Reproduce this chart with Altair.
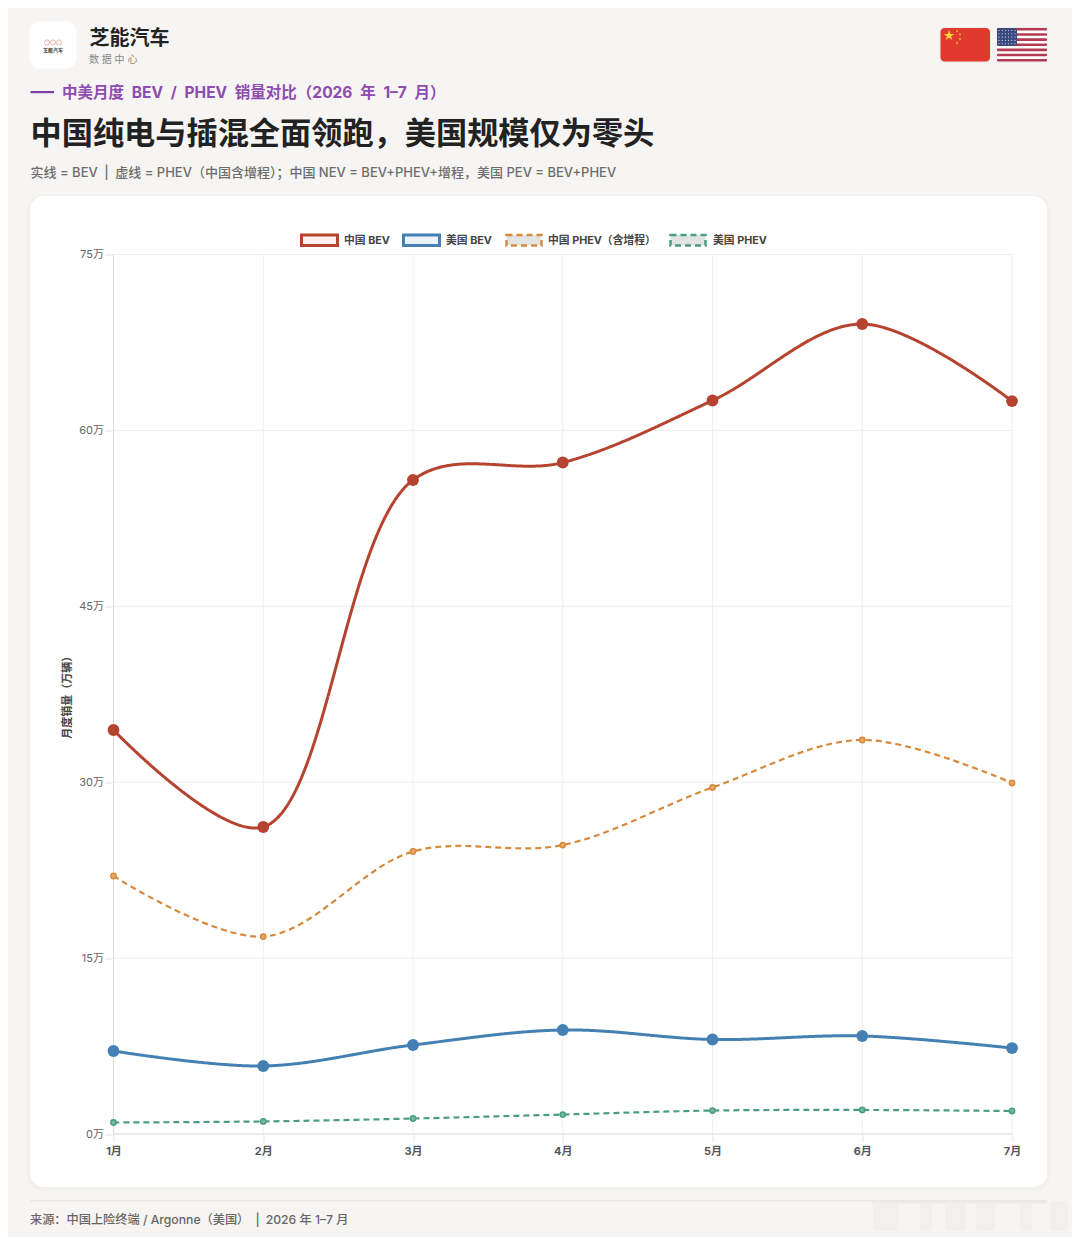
import altair as alt
import pandas as pd

months = ["1月", "2月", "3月", "4月", "5月", "6月", "7月"]
cn_bev = [34.45, 26.18, 55.77, 57.26, 62.55, 69.07, 62.5]
us_bev = [7.08, 5.8, 7.59, 8.87, 8.06, 8.36, 7.33]
cn_phev = [22.0, 16.84, 24.09, 24.64, 29.55, 33.6, 29.93]
us_phev = [0.98, 1.07, 1.32, 1.66, 2.0, 2.05, 1.96]
series_names = ["中国 BEV", "美国 BEV", "中国 PHEV（含增程）", "美国 PHEV"]
series_values = [cn_bev, us_bev, cn_phev, us_phev]
series_colors = ["#b5432f", "#4480b3", "#d68a3c", "#4a9e80"]
point_fills = ["#b5432f", "#4480b3", "#eaa765", "#74b89f"]
legend_fills = ["#fdf1ef", "#eaf3f9", "#e3e5e5", "#e0e3e2"]
legend_boxes = [(301.5, 337.5), (403.5, 439.5), (506.5, 541.5), (670.5, 705.5)]
legend_text_x = [344, 446, 548, 713]
y_ticks = [0, 15, 30, 45, 60, 75]

FONT = "Inter, Noto Sans CJK SC"
PX0, PY0 = 113.5, 254.5
PW, PH = 898.5, 879.5

rows = []
for name, vals in zip(series_names, series_values):
    for m, v in zip(months, vals):
        rows.append({"month": m, "series": name, "value": v})
df = pd.DataFrame(rows)

layers = []


def one():
    return alt.Chart(pd.DataFrame({"a": [0]}))


def box(x0, y0, x1, y1, fill, radius=0, opacity=1):
    layers.append(
        one().mark_rect(fill=fill, cornerRadius=radius, opacity=opacity).encode(
            x=alt.value(x0 - PX0), x2=alt.value(x1 - PX0),
            y=alt.value(y0 - PY0), y2=alt.value(y1 - PY0)))


def label(s, x, y, size, color, weight=400, align="left"):
    layers.append(
        alt.Chart(pd.DataFrame({"t": [s]})).mark_text(
            font=FONT, fontSize=size, color=color, fontWeight=weight,
            align=align, baseline="middle").encode(
            x=alt.value(x - PX0), y=alt.value(y - PY0), text="t:N"))


# card and shadow
box(27, 195, 1050, 1191, "#f1f0ed", 16)
box(30, 196, 1047, 1187, "#ffffff", 14)

# logo
box(29, 21, 77, 69, "#fbfaf9", 11)
box(30, 22, 76, 68, "#ffffff", 10)
for cx in (47, 53, 59):
    layers.append(one().mark_point(shape="circle", size=26, stroke="#d9825f", strokeWidth=0.8, filled=False)
                  .encode(x=alt.value(cx - PX0), y=alt.value(42.5 - PY0)))
label("芝能汽车", 53, 50, 5, "#333333", 700, "center")

# header
label("芝能汽车", 89.5, 38.5, 20, "#222222", 700)
label("数 据 中 心", 89, 59.5, 10, "#888888")
box(30.5, 91, 54, 93.2, "#7d3fae")
label("中美月度\u2002BEV\u2002/\u2002PHEV\u2002销量对比（2026\u2002年\u20021–7\u2002月）", 62, 93, 15.5, "#8e4bb0", 700)
label("中国纯电与插混全面领跑，美国规模仅为零头", 30.5, 134.5, 31.2, "#222222", 700)
label("实线 = BEV\u2002|\u2002虚线 = PHEV（中国含增程）；中国 NEV = BEV+PHEV+增程，美国 PEV = BEV+PHEV", 30.5, 173, 13, "#6d6d6d", 500)

# China flag
box(939.5, 27, 991, 63, "#eeeceb", 4)
box(940.5, 28, 990, 61.5, "#e0392d", 4)
label("★", 949, 36, 12, "#fbd53b", 400, "center")
for sx, sy in [(957, 31), (960, 34.5), (960, 39), (957, 43)]:
    layers.append(one().mark_circle(size=5, color="#f0a93f", opacity=1)
                  .encode(x=alt.value(sx - PX0), y=alt.value(sy - PY0)))

# US flag
box(996.5, 27, 1048, 63, "#eeeceb", 4)
box(997, 28, 1047, 61.5, "#ffffff", 4)
stripe_h = 33.5 / 13
for i in range(0, 13, 2):
    box(997, 28 + i * stripe_h, 1047, 28 + (i + 1) * stripe_h, "#b33a52", 1)
box(997, 28, 1017, 46, "#3c4b7f", 2)
for r in range(5):
    for c in range(6):
        layers.append(one().mark_circle(size=1.2, color="#dfe3ee", opacity=1)
                      .encode(x=alt.value(999 + c * 3.2 - PX0), y=alt.value(30.5 + r * 3.3 - PY0)))

# footer
box(30, 1200.2, 1047, 1201.2, "#e5e4e1")
label("来源：中国上险终端 / Argonne（美国）\u2002|\u20022026 年 1–7 月", 30, 1219.5, 12.2, "#666666", 500)

# faint smear at the lower right of the page
box(872, 1201, 1047, 1204, "#e9e7e3", 0, 0.6)
for x0, x1 in [(873, 898), (920, 932), (945, 966), (976, 995), (1020, 1032), (1050, 1068)]:
    box(x0, 1201, x1, 1231, "#f0eeeb", 4, 0.7)

# legend
for name, color, fill, (bx0, bx1), tx in zip(series_names, series_colors, legend_fills, legend_boxes, legend_text_x):
    dashed = "PHEV" in name
    mark_args = dict(fill=fill, stroke=color, strokeWidth=2.5 if dashed else 3)
    if dashed:
        mark_args["strokeDash"] = [6, 4]
    layers.append(one().mark_rect(**mark_args).encode(
        x=alt.value(bx0 - PX0), x2=alt.value(bx1 - PX0),
        y=alt.value(235 - PY0), y2=alt.value(245.5 - PY0)))
    label(name, tx, 240.5, 10.8, "#444444", 700)

x_enc = alt.X("month:N", sort=months, scale=alt.Scale(type="point", domain=months, padding=0),
              axis=alt.Axis(title=None, domain=False, grid=False, ticks=True, tickSize=8, tickColor="#e6e6e6",
                            labelAngle=0, labelFont=FONT, labelFontSize=11, labelFontWeight=700,
                            labelColor="#555555", labelPadding=3, zindex=1))
y_enc = alt.Y("value:Q", scale=alt.Scale(domain=[0, 75], nice=False),
              axis=alt.Axis(values=y_ticks, title="月度销量（万辆）", domain=False, grid=False, tickSize=9,
                            tickColor="#e6e6e6", labelExpr="datum.value + '万'", labelFont=FONT,
                            labelFontSize=11, labelColor="#666666", labelPadding=1, titleFont=FONT,
                            titleFontSize=11, titleFontWeight=700, titleColor="#444444", titlePadding=6,
                            zindex=1))

# grid drawn from the same scales
layers.append(alt.Chart(pd.DataFrame({"value": y_ticks})).mark_rule(color="#eeeeee", strokeWidth=1).encode(y=y_enc))
layers.append(alt.Chart(pd.DataFrame({"month": months})).mark_rule(color="#eeeeee", strokeWidth=1).encode(x=x_enc))
layers.append(alt.Chart(pd.DataFrame({"value": [0]})).mark_rule(color="#dddddd", strokeWidth=1).encode(y=y_enc))
layers.append(alt.Chart(pd.DataFrame({"month": months[:1]})).mark_rule(color="#dddddd", strokeWidth=1).encode(x=x_enc))

color_scale = alt.Scale(domain=series_names, range=series_colors)
fill_scale = alt.Scale(domain=series_names, range=point_fills)
dash_scale = alt.Scale(domain=series_names, range=[[1, 0], [1, 0], [6, 4], [6, 4]])

for names, width in [(series_names[2:], 2.2), (series_names[:2], 3)]:
    layers.append(
        alt.Chart(df[df.series.isin(names)]).mark_line(interpolate="catmull-rom", strokeWidth=width).encode(
            x=x_enc, y=y_enc,
            color=alt.Color("series:N", scale=color_scale, legend=None),
            strokeDash=alt.StrokeDash("series:N", scale=dash_scale, legend=None)))

layers.append(
    alt.Chart(df[df.series.isin(series_names[2:])]).mark_circle(size=28, opacity=1, strokeWidth=1.5).encode(
        x=x_enc, y=y_enc,
        stroke=alt.Stroke("series:N", scale=color_scale, legend=None),
        fill=alt.Fill("series:N", scale=fill_scale, legend=None)))
layers.append(
    alt.Chart(df[df.series.isin(series_names[:2])]).mark_circle(size=140, opacity=1).encode(
        x=x_enc, y=y_enc,
        fill=alt.Fill("series:N", scale=fill_scale, legend=None)))

chart = alt.layer(*layers).properties(
    width=PW, height=PH, background="#f6f5f3",
    autosize=alt.AutoSizeParams(type="none"),
    padding={"left": PX0 - 8, "top": PY0 - 8, "right": 1064 - (PX0 - 8) - PW, "bottom": 1229 - (PY0 - 8) - PH},
).configure_view(stroke=None)

chart.save("out.html", embed_options={"renderer": "svg", "actions": False})
